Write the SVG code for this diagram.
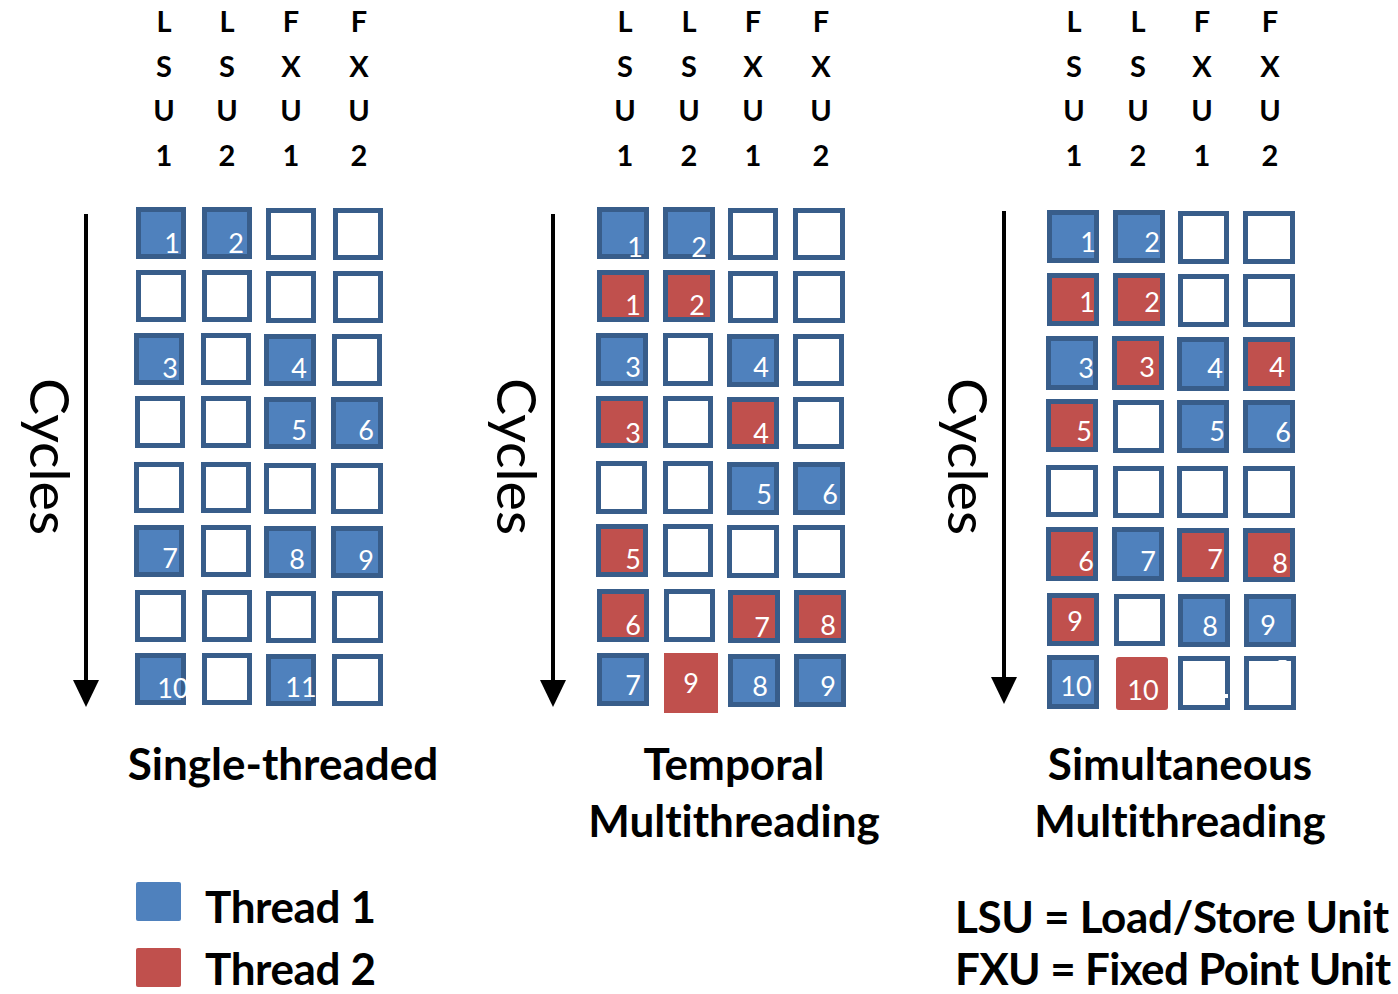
<svg xmlns="http://www.w3.org/2000/svg" width="1398" height="994" viewBox="0 0 1398 994">
<style>
text{font-variant-ligatures:none;font-feature-settings:"liga" 0,"clig" 0}
.hd{font-family:Lato,"Open Sans",sans-serif;font-weight:bold;font-size:29px;fill:#000;text-anchor:middle}
.ttl{font-family:Lato,"Open Sans",sans-serif;font-weight:bold;font-size:44px;fill:#000;text-anchor:middle}
.leg{font-family:Lato,"Open Sans",sans-serif;font-weight:bold;font-size:44px;fill:#000}
.cyc{font-family:Lato,"Open Sans",sans-serif;font-size:54px;fill:#000}
.num{font-family:Lato,"Open Sans",sans-serif;font-size:27px;fill:#fff;text-anchor:middle}
.c{stroke:#385D8A;stroke-width:5}
.w{fill:#fff}
.b{fill:#4F81BD}
.r{fill:#C0504D}
.ax{stroke:#000;stroke-width:4;fill:none}
</style>
<rect width="1398" height="994" fill="#fff"/>

<g id="connectors">
<line class="ax" x1="86" y1="214" x2="86" y2="684"/>
<polygon points="73,680 99,680 86,707" fill="#000"/>
<line class="ax" x1="553" y1="214" x2="553" y2="684"/>
<polygon points="540,680 566,680 553,707" fill="#000"/>
<line class="ax" x1="1004" y1="211" x2="1004" y2="681"/>
<polygon points="991,677 1017,677 1004,704" fill="#000"/>
</g>

<!-- Panel 1 -->
<g id="panel-single">
<g id="p1-headers">
<text class="hd" x="164" y="32">L</text><text class="hd" x="164" y="77">S</text><text class="hd" x="164" y="121">U</text><text class="hd" x="164" y="166">1</text>
<text class="hd" x="227" y="32">L</text><text class="hd" x="227" y="77">S</text><text class="hd" x="227" y="121">U</text><text class="hd" x="227" y="166">2</text>
<text class="hd" x="291" y="32">F</text><text class="hd" x="291" y="77">X</text><text class="hd" x="291" y="121">U</text><text class="hd" x="291" y="166">1</text>
<text class="hd" x="359" y="32">F</text><text class="hd" x="359" y="77">X</text><text class="hd" x="359" y="121">U</text><text class="hd" x="359" y="166">2</text>
</g>
<text class="cyc" transform="translate(30,378) rotate(90)" textLength="157" lengthAdjust="spacingAndGlyphs">Cycles</text>
<g id="p1-cells">
<rect class="c b" x="138.5" y="209.5" width="45" height="47"/><rect class="c b" x="204.5" y="209.5" width="45" height="47"/><rect class="c w" x="268.5" y="210.5" width="45" height="47"/><rect class="c w" x="335.5" y="210.5" width="45" height="47"/>
<rect class="c w" x="138.5" y="272.5" width="45" height="47"/><rect class="c w" x="204.5" y="272.5" width="45" height="47"/><rect class="c w" x="268.5" y="273.5" width="45" height="47"/><rect class="c w" x="335.5" y="273.5" width="45" height="47"/>
<rect class="c b" x="136.5" y="335.5" width="45" height="47"/><rect class="c w" x="203.5" y="335.5" width="45" height="47"/><rect class="c b" x="266.5" y="336.5" width="47" height="47"/><rect class="c w" x="334.5" y="336.5" width="45" height="47"/>
<rect class="c w" x="137.5" y="398.5" width="45" height="47"/><rect class="c w" x="203.5" y="398.5" width="45" height="47"/><rect class="c b" x="266.5" y="399.5" width="47" height="47"/><rect class="c b" x="333.5" y="399.5" width="47" height="47"/>
<rect class="c w" x="136.5" y="464.5" width="45" height="46"/><rect class="c w" x="203.5" y="464.5" width="45" height="46"/><rect class="c w" x="266.5" y="465.5" width="47" height="46"/><rect class="c w" x="333.5" y="465.5" width="47" height="46"/>
<rect class="c b" x="136.5" y="527.5" width="45" height="47"/><rect class="c w" x="203.5" y="527.5" width="45" height="47"/><rect class="c b" x="266.5" y="528.5" width="47" height="47"/><rect class="c b" x="333.5" y="528.5" width="47" height="47"/>
<rect class="c w" x="137.5" y="592.5" width="46" height="47"/><rect class="c w" x="204.5" y="592.5" width="45" height="47"/><rect class="c w" x="268.5" y="593.5" width="45" height="47"/><rect class="c w" x="334.5" y="593.5" width="46" height="47"/>
<rect class="c b" x="137.5" y="655.5" width="46" height="47"/><rect class="c w" x="204.5" y="655.5" width="45" height="47"/><rect class="c b" x="268.5" y="656.5" width="45" height="47"/><rect class="c w" x="334.5" y="656.5" width="46" height="47"/>
</g>
<g id="p1-nums">
<text class="num" x="172" y="253">1</text><text class="num" x="236" y="253">2</text>
<text class="num" x="170" y="378">3</text><text class="num" x="299" y="378">4</text>
<text class="num" x="299" y="440">5</text><text class="num" x="366" y="440">6</text>
<text class="num" x="170" y="568">7</text><text class="num" x="297" y="569">8</text><text class="num" x="366" y="570">9</text>
<text class="num" x="173" y="698">10</text><text class="num" x="301" y="697">11</text>
</g>
<text class="ttl" x="283" y="780">Single-threaded</text>
</g>

<!-- Panel 2 -->
<g id="panel-temporal">
<g id="p2-headers">
<text class="hd" x="625" y="32">L</text><text class="hd" x="625" y="77">S</text><text class="hd" x="625" y="121">U</text><text class="hd" x="625" y="166">1</text>
<text class="hd" x="689" y="32">L</text><text class="hd" x="689" y="77">S</text><text class="hd" x="689" y="121">U</text><text class="hd" x="689" y="166">2</text>
<text class="hd" x="753" y="32">F</text><text class="hd" x="753" y="77">X</text><text class="hd" x="753" y="121">U</text><text class="hd" x="753" y="166">1</text>
<text class="hd" x="821" y="32">F</text><text class="hd" x="821" y="77">X</text><text class="hd" x="821" y="121">U</text><text class="hd" x="821" y="166">2</text>
</g>
<text class="cyc" transform="translate(497,378) rotate(90)" textLength="157" lengthAdjust="spacingAndGlyphs">Cycles</text>
<g id="p2-cells">
<rect class="c b" x="599.5" y="209.5" width="47" height="47"/><rect class="c b" x="665.5" y="209.5" width="47" height="47"/><rect class="c w" x="730.5" y="210.5" width="45" height="47"/><rect class="c w" x="795.5" y="210.5" width="47" height="47"/>
<rect class="c r" x="599.5" y="272.5" width="47" height="47"/><rect class="c r" x="665.5" y="272.5" width="47" height="47"/><rect class="c w" x="730.5" y="273.5" width="45" height="47"/><rect class="c w" x="795.5" y="273.5" width="47" height="47"/>
<rect class="c b" x="598.5" y="335.5" width="47" height="48"/><rect class="c w" x="665.5" y="335.5" width="45" height="48"/><rect class="c b" x="729.5" y="336.5" width="47" height="48"/><rect class="c w" x="795.5" y="336.5" width="46" height="47"/>
<rect class="c r" x="598.5" y="398.5" width="47" height="47"/><rect class="c w" x="665.5" y="398.5" width="45" height="47"/><rect class="c r" x="729.5" y="399.5" width="47" height="47"/><rect class="c w" x="795.5" y="399.5" width="46" height="47"/>
<rect class="c w" x="598.5" y="463.5" width="46" height="48"/><rect class="c w" x="665.5" y="463.5" width="45" height="48"/><rect class="c b" x="729.5" y="464.5" width="47" height="48"/><rect class="c b" x="795.5" y="464.5" width="47" height="48"/>
<rect class="c r" x="598.5" y="526.5" width="47" height="48"/><rect class="c w" x="665.5" y="526.5" width="45" height="48"/><rect class="c w" x="729.5" y="527.5" width="47" height="48"/><rect class="c w" x="795.5" y="527.5" width="47" height="48"/>
<rect class="c r" x="599.5" y="591.5" width="47" height="48"/><rect class="c w" x="666.5" y="591.5" width="46" height="48"/><rect class="c r" x="730.5" y="592.5" width="47" height="48"/><rect class="c r" x="796.5" y="592.5" width="47" height="48"/>
<rect class="c b" x="599.5" y="655.5" width="47" height="48"/><rect class="r" x="664" y="653" width="54" height="60"/><rect class="c b" x="730.5" y="656.5" width="47" height="48"/><rect class="c b" x="796.5" y="656.5" width="47" height="48"/>
</g>
<g id="p2-nums">
<text class="num" x="635" y="257">1</text><text class="num" x="699" y="257">2</text>
<text class="num" x="633" y="315">1</text><text class="num" x="697" y="315">2</text>
<text class="num" x="633" y="377">3</text><text class="num" x="761" y="377">4</text>
<text class="num" x="633" y="443">3</text><text class="num" x="761" y="443">4</text>
<text class="num" x="764" y="504">5</text><text class="num" x="830" y="504">6</text>
<text class="num" x="633" y="569">5</text>
<text class="num" x="633" y="635">6</text><text class="num" x="762" y="637">7</text><text class="num" x="828" y="635">8</text>
<text class="num" x="633" y="695">7</text><text class="num" x="691" y="693">9</text><text class="num" x="760" y="696">8</text><text class="num" x="828" y="696">9</text>
</g>
<text class="ttl" x="734" y="780">Temporal</text>
<text class="ttl" x="734" y="837">Multithreading</text>
</g>

<!-- Panel 3 -->
<g id="panel-simultaneous">
<g id="p3-headers">
<text class="hd" x="1074" y="32">L</text><text class="hd" x="1074" y="77">S</text><text class="hd" x="1074" y="121">U</text><text class="hd" x="1074" y="166">1</text>
<text class="hd" x="1138" y="32">L</text><text class="hd" x="1138" y="77">S</text><text class="hd" x="1138" y="121">U</text><text class="hd" x="1138" y="166">2</text>
<text class="hd" x="1202" y="32">F</text><text class="hd" x="1202" y="77">X</text><text class="hd" x="1202" y="121">U</text><text class="hd" x="1202" y="166">1</text>
<text class="hd" x="1270" y="32">F</text><text class="hd" x="1270" y="77">X</text><text class="hd" x="1270" y="121">U</text><text class="hd" x="1270" y="166">2</text>
</g>
<text class="cyc" transform="translate(948,378) rotate(90)" textLength="157" lengthAdjust="spacingAndGlyphs">Cycles</text>
<g id="p3-cells">
<rect class="c b" x="1049.5" y="212.5" width="47" height="48"/><rect class="c b" x="1115.5" y="212.5" width="47" height="48"/><rect class="c w" x="1180.5" y="213.5" width="46" height="48"/><rect class="c w" x="1245.5" y="213.5" width="47" height="48"/>
<rect class="c r" x="1049.5" y="275.5" width="47" height="48"/><rect class="c r" x="1115.5" y="275.5" width="47" height="48"/><rect class="c w" x="1180.5" y="276.5" width="46" height="48"/><rect class="c w" x="1245.5" y="276.5" width="47" height="48"/>
<rect class="c b" x="1048.5" y="338.5" width="47" height="49"/><rect class="c r" x="1114.5" y="338.5" width="47" height="49"/><rect class="c b" x="1179.5" y="339.5" width="47" height="49"/><rect class="c r" x="1245.5" y="339.5" width="47" height="49"/>
<rect class="c r" x="1048.5" y="401.5" width="47" height="48"/><rect class="c w" x="1115.5" y="402.5" width="46" height="48"/><rect class="c b" x="1179.5" y="402.5" width="47" height="48"/><rect class="c b" x="1245.5" y="402.5" width="47" height="48"/>
<rect class="c w" x="1048.5" y="467.5" width="47" height="47"/><rect class="c w" x="1115.5" y="468.5" width="46" height="47"/><rect class="c w" x="1179.5" y="468.5" width="46" height="47"/><rect class="c w" x="1245.5" y="468.5" width="47" height="47"/>
<rect class="c r" x="1048.5" y="529.5" width="47" height="49"/><rect class="c b" x="1114.5" y="529.5" width="47" height="49"/><rect class="c r" x="1179.5" y="530.5" width="47" height="49"/><rect class="c r" x="1245.5" y="530.5" width="47" height="49"/>
<rect class="c r" x="1049.5" y="595.5" width="47" height="48"/><rect class="c w" x="1116.5" y="596.5" width="46" height="47"/><rect class="c b" x="1180.5" y="596.5" width="47" height="48"/><rect class="c b" x="1246.5" y="596.5" width="47" height="48"/>
<rect class="c b" x="1049.5" y="657.5" width="47" height="49"/><rect class="r" x="1116" y="657" width="52" height="53" rx="3"/><rect class="c w" x="1180.5" y="658.5" width="47" height="49"/><rect class="c w" x="1246.5" y="658.5" width="47" height="49"/>
<rect x="1223" y="694" width="5" height="4" fill="#fff"/><rect x="1278" y="660" width="9" height="3" rx="1.5" fill="#fff"/>
</g>
<g id="p3-nums">
<text class="num" x="1088" y="252">1</text><text class="num" x="1152" y="252">2</text>
<text class="num" x="1087" y="312">1</text><text class="num" x="1152" y="312">2</text>
<text class="num" x="1086" y="378">3</text><text class="num" x="1147" y="377">3</text><text class="num" x="1215" y="378">4</text><text class="num" x="1277" y="377">4</text>
<text class="num" x="1084" y="441">5</text><text class="num" x="1217" y="441">5</text><text class="num" x="1283" y="442">6</text>
<text class="num" x="1086" y="571">6</text><text class="num" x="1148" y="571">7</text><text class="num" x="1215" y="569">7</text><text class="num" x="1280" y="573">8</text>
<text class="num" x="1075" y="631">9</text><text class="num" x="1210" y="636">8</text><text class="num" x="1268" y="635">9</text>
<text class="num" x="1076" y="696">10</text><text class="num" x="1143" y="700">10</text>
</g>
<text class="ttl" x="1180" y="780">Simultaneous</text>
<text class="ttl" x="1180" y="837">Multithreading</text>
</g>

<g id="legend">
<rect x="136" y="882" width="45" height="39" rx="2" fill="#4F81BD"/>
<text class="leg" x="205" y="923" textLength="171">Thread 1</text>
<rect x="136" y="948" width="45" height="39" rx="2" fill="#C0504D"/>
<text class="leg" x="205" y="985" textLength="171">Thread 2</text>
</g>
<g id="abbrev">
<text class="leg" x="955" y="933" textLength="434">LSU = Load/Store Unit</text>
<text class="leg" x="955" y="985" textLength="436">FXU = Fixed Point Unit</text>
</g>
</svg>
